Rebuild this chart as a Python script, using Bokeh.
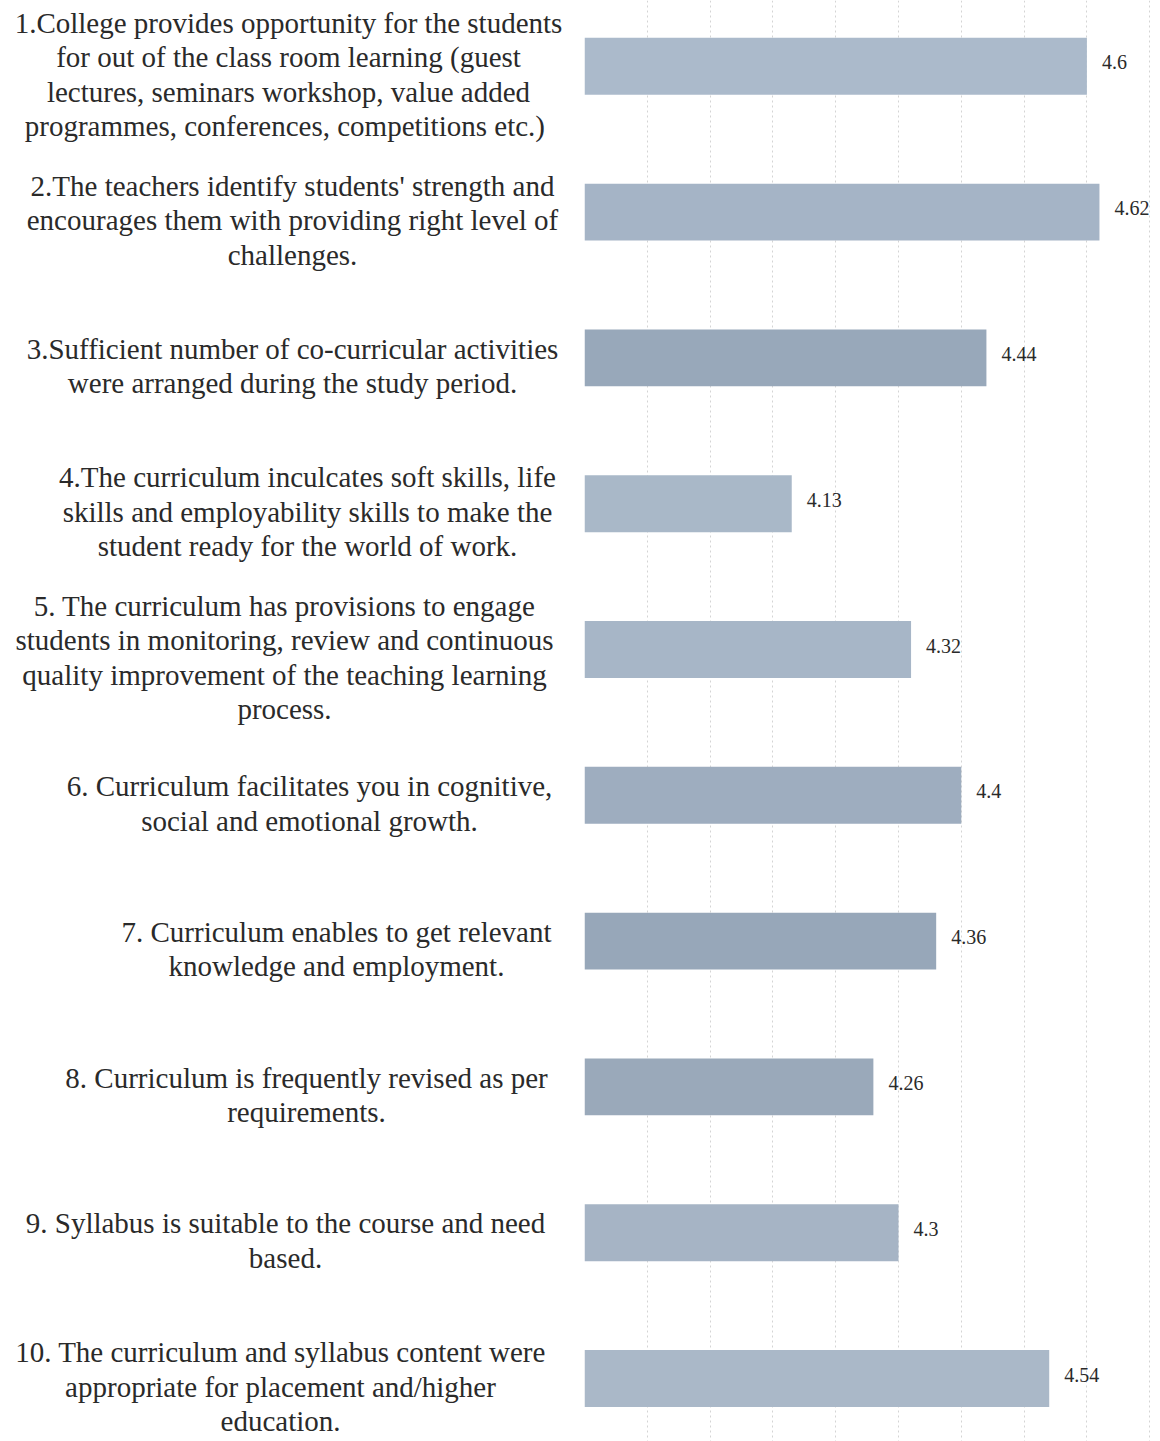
from bokeh.plotting import figure
from bokeh.models import Range1d, FixedTicker, ColumnDataSource
from bokeh.layouts import row
from bokeh.embed import file_html
from bokeh.resources import INLINE
from bokeh.core.properties import value

# ---------------- data ----------------
categories = [
    ["1.College provides opportunity for the students",
     "for out of the class room learning (guest",
     "lectures, seminars workshop, value added",
     "programmes,  conferences, competitions etc.)"],
    ["2.The teachers identify students' strength and",
     "encourages them with providing right level of",
     "challenges."],
    ["3.Sufficient number of co-curricular activities",
     "were arranged during the study period."],
    ["4.The curriculum inculcates soft skills, life",
     "skills and employability skills to make the",
     "student ready for the world of work."],
    ["5. The curriculum has provisions to engage",
     "students in monitoring, review and continuous",
     "quality improvement of the teaching learning",
     "process."],
    ["6. Curriculum facilitates you in cognitive,",
     "social and emotional growth."],
    ["7. Curriculum enables to get relevant",
     "knowledge and employment."],
    ["8. Curriculum is frequently revised as per",
     "requirements."],
    ["9. Syllabus is suitable to the course and need",
     "based."],
    ["10. The curriculum and syllabus content were",
     "appropriate for placement and/higher",
     "education."],
]
scores = [4.6, 4.62, 4.44, 4.13, 4.32, 4.4, 4.36, 4.26, 4.3, 4.54]
score_labels = ["4.6", "4.62", "4.44", "4.13", "4.32", "4.4", "4.36", "4.26", "4.3", "4.54"]
grid_ticks = [3.8, 3.9, 4.0, 4.1, 4.2, 4.3, 4.4, 4.5, 4.6, 4.7]
axis_start = 3.8

# ---------------- layout / style ----------------
FIG_H = 1441
LEFT_W = 584
RIGHT_W = 576
PX_PER_UNIT = 628.0
ROW_PX = 145.8
FIRST_ROW_PX = 65.8
BAR_FRAC = 0.39
LINE_PX = 34.5
LABEL_SHIFT_PX = 8
LABEL_CENTERS = [288, 292, 292, 307, 284, 309, 336, 306, 285, 280]  # px in left panel
BAR_COLORS = ["#abbacb", "#a5b4c6", "#98a8ba", "#a9b8c8", "#a7b6c7",
              "#9eadbf", "#97a7b9", "#9aa9ba", "#a6b4c5", "#aab8c8"]
TEXT_COLOR = "#2a2a2a"
FONT = "Liberation Serif"

n = len(scores)
pos = list(range(n))
y_top = -FIRST_ROW_PX / ROW_PX
y_bottom = (FIG_H - FIRST_ROW_PX) / ROW_PX
y_range = Range1d(y_bottom, y_top)

# ---------------- left panel: category labels ----------------
left = figure(width=LEFT_W, height=FIG_H, x_range=Range1d(0, LEFT_W), y_range=y_range,
              output_backend="svg", toolbar_location=None, min_border=0)
xs, ys, texts, yoffs = [], [], [], []
for i, lines in enumerate(categories):
    k = len(lines)
    for j, line in enumerate(lines):
        xs.append(LABEL_CENTERS[i])
        ys.append(pos[i])
        texts.append(line)
        yoffs.append((j - (k - 1) / 2.0) * LINE_PX + LABEL_SHIFT_PX)
lsrc = ColumnDataSource(dict(x=xs, y=ys, text=texts, yo=yoffs))
left.text(x="x", y="y", text="text", y_offset="yo", source=lsrc,
          text_align="center", text_baseline="middle",
          text_font=value(FONT), text_font_size="29px", text_color=TEXT_COLOR)
left.axis.visible = False
left.grid.visible = False
left.outline_line_color = None

# ---------------- right panel: bars ----------------
x_end = axis_start + RIGHT_W / PX_PER_UNIT
right = figure(width=RIGHT_W, height=FIG_H, x_range=Range1d(axis_start, x_end), y_range=y_range,
               output_backend="svg", toolbar_location=None, min_border=0)
right.xgrid.ticker = FixedTicker(ticks=grid_ticks)
right.xgrid.grid_line_color = "#d4d4d4"
right.xgrid.grid_line_dash = "2 3"
right.xgrid.grid_line_width = 1
right.ygrid.visible = False
right.axis.visible = False
right.outline_line_color = None

bsrc = ColumnDataSource(dict(y=pos, right=scores, color=BAR_COLORS, label=score_labels))
right.hbar(y="y", left=axis_start, right="right", height=BAR_FRAC, fill_color="color",
           line_color=None, source=bsrc)
right.text(x="right", y="y", text="label", source=bsrc, x_offset=15, y_offset=-4,
           text_align="left", text_baseline="middle",
           text_font=value(FONT), text_font_size="20px", text_color=TEXT_COLOR)

layout = row(left, right, spacing=0)
open("out.html", "w").write(file_html(layout, INLINE))
